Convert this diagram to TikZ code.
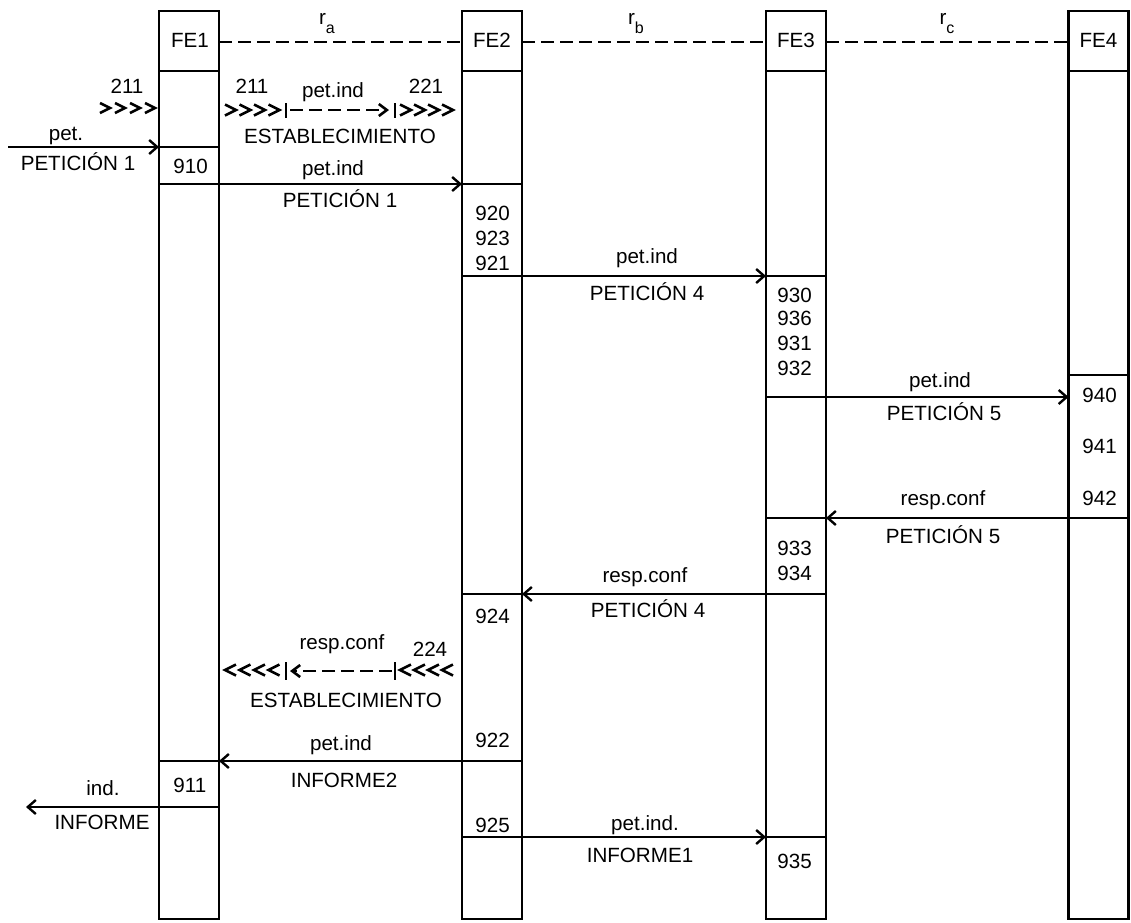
\documentclass[tikz,border=0pt]{standalone}
\usepackage{fontspec}
\setmainfont{Liberation Sans}
\usetikzlibrary{arrows.meta}

\tikzset{
  bar/.style={draw, line width=1.2pt, minimum width=30pt, minimum height=454pt, outer sep=0pt, inner sep=0pt},
  sep/.style={line width=1.2pt},
  msg/.style={line width=1.2pt, -{Straight Barb[length=4pt,width=7pt]}},
  chev/.style={line width=1.3pt},
  dsh/.style={line width=1.3pt, dash pattern=on 6.5pt off 3pt},
  lbl/.style={anchor=base, inner sep=0pt},
  num/.style={anchor=base west, inner sep=0pt}
}

\begin{document}
\begin{tikzpicture}[x=0.5pt, y=-0.5pt, font=\fontsize{10.3pt}{12pt}\selectfont]
\useasboundingbox (0,0) rectangle (1131,922);

% functional entities
\node[bar] (fe1) at (189,465) {};
\node[bar] (fe2) at (492,465) {};
\node[bar] (fe3) at (796,465) {};
\node[bar] (fe4) at (1098.5,465) {};

\node[lbl] (h1) at (190,47) {FE1};
\node[lbl] (h2) at (492,47) {FE2};
\node[lbl] (h3) at (796,47) {FE3};
\node[lbl] (h4) at (1098.5,47) {FE4};

\coordinate (hd) at (0,42);
\draw[dsh] (fe1.east |- hd) -- (fe2.west |- hd);
\draw[dsh] (fe2.east |- hd) -- (fe3.west |- hd);
\draw[dsh] (fe3.east |- hd) -- (fe4.west |- hd);
\node[lbl] (ra) at (327,24) {r\raisebox{-4.5pt}{\footnotesize a}};
\node[lbl] (rb) at (636,24) {r\raisebox{-4.5pt}{\footnotesize b}};
\node[lbl] (rc) at (947,24) {r\raisebox{-4.5pt}{\footnotesize c}};

% boxes inside the entities
\foreach \y in {71,147,184,761,807} \draw[sep] (fe1.west |- 0,\y) -- (fe1.east |- 0,\y);
\foreach \y in {71,184,276,594,761,837} \draw[sep] (fe2.west |- 0,\y) -- (fe2.east |- 0,\y);
\foreach \y in {71,276,397,518,594,837} \draw[sep] (fe3.west |- 0,\y) -- (fe3.east |- 0,\y);
\foreach \y in {71,375,518} \draw[sep] (fe4.west |- 0,\y) -- (fe4.east |- 0,\y);

% messages
\coordinate (m1) at (8,147);
\coordinate (m2) at (0,184);
\coordinate (m3) at (0,276);
\coordinate (m4) at (0,397);
\coordinate (m5) at (0,518);
\coordinate (m6) at (0,594);
\coordinate (m7) at (0,761);
\coordinate (m8) at (26,807);
\coordinate (m9) at (0,837);

\draw[msg] (m1) -- (fe1.west |- m1);
\draw[msg] (fe1.east |- m2) -- (fe2.west |- m2);
\draw[msg] (fe2.east |- m3) -- (fe3.west |- m3);
\draw[msg] (fe3.east |- m4) -- (fe4.west |- m4);
\draw[msg] (fe4.west |- m5) -- (fe3.east |- m5);
\draw[msg] (fe3.west |- m6) -- (fe2.east |- m6);
\draw[msg] (fe2.west |- m7) -- (fe1.east |- m7);
\draw[msg] (fe1.west |- m8) -- (m8);
\draw[msg] (fe2.east |- m9) -- (fe3.west |- m9);

% establecimiento chains
\foreach \x in {100,115,130,145} \draw[chev] (\x,103) -- ++(10,5) -- ++(-10,5);
\foreach \x in {225,239.5,254,268.5,400,414,428,442} \draw[chev] (\x,104.5) -- ++(11,5.5) -- ++(-11,5.5);
\coordinate (ua) at (286,110);
\coordinate (ub) at (395,110);
\draw[sep] ([yshift=3.5pt]ua) -- ([yshift=-4pt]ua);
\draw[sep] ([yshift=3.5pt]ub) -- ([yshift=-4pt]ub);
\draw[dsh, -{Straight Barb[length=4pt,width=6pt]}] ([xshift=2pt]ua) -- ([xshift=-3pt]ub);

\foreach \x in {225,239.5,254,268.5,400,414,428,442} \draw[chev] (\x+11,664.5) -- ++(-11,5.5) -- ++(11,5.5);
\coordinate (la) at (286,671);
\coordinate (lb) at (395,671);
\draw[sep] ([yshift=4.5pt]la) -- ([yshift=-4.5pt]la);
\draw[sep] ([yshift=4.5pt]lb) -- ([yshift=-4.5pt]lb);
\draw[dsh, -{Straight Barb[length=4pt,width=6pt]}] ([xshift=-1.5pt]lb) -- ([xshift=2pt]la);

% labels
\node[lbl] (t211a) at (127,93) {211};
\node[lbl] (tpet) at (66,140) {pet.};
\node[lbl] (tpe1a) at (78,170) {PETICIÓN 1};
\node[lbl] (t211b) at (252,93) {211};
\node[lbl] (tpia) at (333,97) {pet.ind};
\node[lbl] (t221) at (426,93) {221};
\node[lbl] (testa) at (340,143) {ESTABLECIMIENTO};
\node[lbl] (tpib) at (333,175) {pet.ind};
\node[lbl] (tpe1b) at (340,207) {PETICIÓN 1};
\node[lbl] (tpic) at (647,263) {pet.ind};
\node[lbl] (tpe4a) at (647,300) {PETICIÓN 4};
\node[lbl] (tpid) at (940,387) {pet.ind};
\node[lbl] (tpe5a) at (944,420) {PETICIÓN 5};
\node[lbl] (trca) at (943,505) {resp.conf};
\node[lbl] (tpe5b) at (943,543) {PETICIÓN 5};
\node[lbl] (trcb) at (645,582) {resp.conf};
\node[lbl] (tpe4b) at (648,617) {PETICIÓN 4};
\node[lbl] (trcc) at (342,649) {resp.conf};
\node[lbl] (t224) at (430,656) {224};
\node[lbl] (testb) at (346,707) {ESTABLECIMIENTO};
\node[lbl] (tpie) at (341,750) {pet.ind};
\node[lbl] (tinf2) at (344,787) {INFORME2};
\node[lbl] (tind) at (103,795) {ind.};
\node[lbl] (tinf) at (102,829) {INFORME};
\node[lbl] (tpif) at (645,830) {pet.ind.};
\node[lbl] (tinf1) at (640,862) {INFORME1};

% numbers
\node[num] (n910) at (173,173) {910};
\node[num] (n911) at (173,792) {911};
\node[num] (n920) at (475,220) {920};
\node[num] (n923) at (475,245) {923};
\node[num] (n921) at (475,270) {921};
\node[num] (n924) at (475,623) {924};
\node[num] (n922) at (475,747) {922};
\node[num] (n925) at (475,832) {925};
\node[num] (n930) at (777,302) {930};
\node[num] (n936) at (777,325) {936};
\node[num] (n931) at (777,350) {931};
\node[num] (n932) at (777,375) {932};
\node[num] (n933) at (777,555) {933};
\node[num] (n934) at (777,580) {934};
\node[num] (n935) at (777,868) {935};
\node[num] (n940) at (1082,402) {940};
\node[num] (n941) at (1082,453) {941};
\node[num] (n942) at (1082,505) {942};

\end{tikzpicture}
\end{document}
